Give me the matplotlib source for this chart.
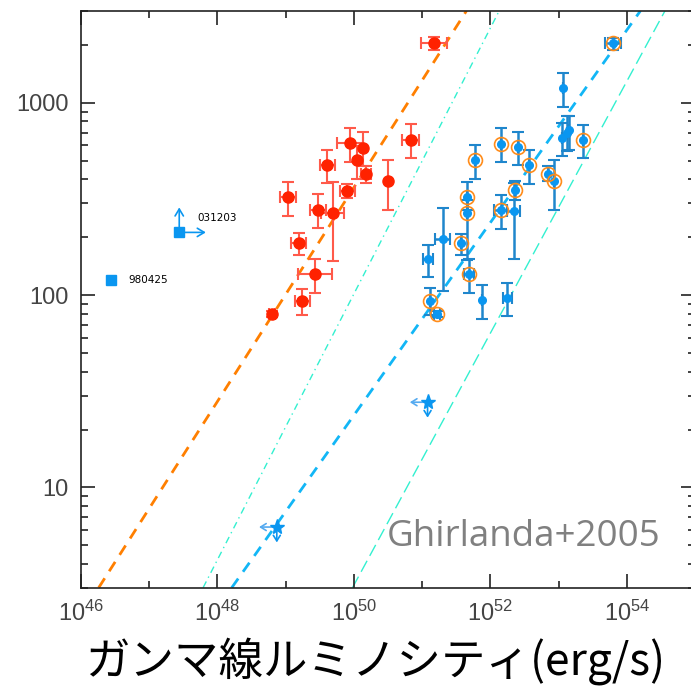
import matplotlib

matplotlib.use("Agg")
import matplotlib.pyplot as plt
import numpy as np
from matplotlib.ticker import FixedLocator, NullFormatter

plt.rcParams["font.family"] = ["Liberation Sans", "DejaVu Sans"]
plt.rcParams["mathtext.default"] = "regular"

# --- data: log10 L_gamma (erg/s), log10 Epeak (keV) ---
# red sample (lower-luminosity group)
red_logL = [49.03, 49.19, 49.24, 49.43, 49.47, 49.69, 49.61, 49.90, 49.94,
            50.14, 50.04, 50.18, 50.50, 50.83, 48.80, 51.17]
red_logE = [2.510, 2.271, 1.970, 2.110, 2.444, 2.427, 2.676, 2.543, 2.789,
            2.766, 2.702, 2.628, 2.593, 2.809, 1.900, 3.310]
red_logE_hi = [2.590, 2.323, 2.034, 2.188, 2.524, 2.586, 2.756, 2.578, 2.869,
               2.846, 2.777, 2.669, 2.704, 2.887, 1.915, 3.341]
red_logE_lo = [2.413, 2.210, 1.894, 2.011, 2.347, 2.176, 2.583, 2.505, 2.692,
               2.669, 2.604, 2.583, 2.444, 2.713, 1.885, 3.275]
red_dlogL = [0.12, 0.11, 0.11, 0.25, 0.12, 0.17, 0.11, 0.11, 0.19,
             0.0, 0.0, 0.07, 0.0, 0.12, 0.05, 0.19]

# blue sample (higher-luminosity group)
blue_logL = [53.80, 53.07, 53.05, 53.12, 53.16, 53.36, 52.15, 52.41, 51.78,
             52.57, 52.85, 52.93, 52.36, 52.34, 51.66, 51.66, 52.15, 51.30,
             51.09, 51.57, 51.69, 51.11, 51.22, 51.88, 52.25]
blue_logE = [3.310, 3.076, 2.817, 2.843, 2.860, 2.808, 2.787, 2.768, 2.704,
             2.678, 2.630, 2.591, 2.544, 2.437, 2.510, 2.427, 2.444, 2.290,
             2.188, 2.271, 2.112, 1.971, 1.900, 1.975, 1.985]
blue_logE_hi = [3.339, 3.157, 2.895, 2.929, 2.932, 2.886, 2.869, 2.846, 2.782,
                2.756, 2.669, 2.700, 2.591, 2.583, 2.588, 2.496, 2.522, 2.453,
                2.262, 2.319, 2.190, 2.037, 1.915, 2.051, 2.063]
blue_logE_lo = [3.275, 2.978, 2.721, 2.747, 2.756, 2.713, 2.692, 2.674, 2.605,
                2.579, 2.591, 2.444, 2.496, 2.190, 2.444, 2.184, 2.345, 2.023,
                2.092, 2.210, 2.011, 1.894, 1.885, 1.878, 1.890]
blue_dlogL = [0.12, 0.0, 0.0, 0.0, 0.0, 0.0, 0.0, 0.0, 0.0,
              0.0, 0.0, 0.0, 0.0, 0.10, 0.0, 0.0, 0.09, 0.11,
              0.07, 0.0, 0.07, 0.0, 0.04, 0.0, 0.07]
blue_ringed = [1, 0, 0, 0, 0, 1, 1, 1, 1,
               1, 1, 1, 1, 0, 1, 1, 1, 0,
               0, 1, 1, 1, 1, 0, 0]

# peculiar bursts (squares, with limits for 031203)
sq_names = ["980425", "031203"]
sq_logL = [46.44, 47.44]
sq_logE = [2.077, 2.326]

# upper-limit stars
star_logL = [48.87, 51.08]
star_logE = [0.794, 1.443]

# correlation lines: (logL, logE) at both ends
line_orange = ([46.26, 51.65], [0.479, 3.478])
line_dashdot = ([47.79, 52.13], [0.479, 3.478])
line_blue = ([48.21, 54.20], [0.479, 3.478])
line_longdash = ([49.98, 54.56], [0.479, 3.478])


def p10(a):
    return np.power(10.0, np.asarray(a, dtype=float))


fig = plt.figure(figsize=(6.91, 6.86), dpi=100)
ax = fig.add_axes([81 / 691, 98 / 686, 614 / 691, 577 / 686])
ax.set_xscale("log")
ax.set_yscale("log")
ax.set_xlim(1e46, 1e55)
ax.set_ylim(3.0, 3000)

# lines
ax.plot(p10(line_orange[0]), p10(line_orange[1]), color="#ff7f00", lw=2,
        ls=(0, (4, 3)), zorder=1)
ax.plot(p10(line_dashdot[0]), p10(line_dashdot[1]), color="#33f0d0", lw=1,
        ls=(0, (5, 3, 1, 3)), zorder=1)
ax.plot(p10(line_blue[0]), p10(line_blue[1]), color="#12b6f6", lw=2,
        ls=(0, (4, 3)), zorder=1)
ax.plot(p10(line_longdash[0]), p10(line_longdash[1]), color="#33f0d0", lw=1,
        ls=(0, (9, 4)), zorder=1)

# red points
rx = p10(red_logL)
ry = p10(red_logE)
rxerr = [rx - p10(np.array(red_logL) - red_dlogL), p10(np.array(red_logL) + red_dlogL) - rx]
ryerr = [ry - p10(red_logE_lo), p10(red_logE_hi) - ry]
ax.errorbar(rx, ry, xerr=rxerr, yerr=ryerr, fmt="none", ecolor="#ff5a4a",
            elinewidth=1.5, capsize=4, capthick=1.5, zorder=2)
ax.plot(rx, ry, "o", color="#ff2200", ms=8, mec="#ff2200", zorder=3)

# blue points
bx = p10(blue_logL)
by = p10(blue_logE)
bxerr = [bx - p10(np.array(blue_logL) - blue_dlogL), p10(np.array(blue_logL) + blue_dlogL) - bx]
byerr = [by - p10(blue_logE_lo), p10(blue_logE_hi) - by]
ax.errorbar(bx, by, xerr=bxerr, yerr=byerr, fmt="none", ecolor="#1f86cc",
            elinewidth=1.8, capsize=4, capthick=1.5, zorder=2)
ax.plot(bx, by, "o", color="#0a96f0", ms=5.5, mec="#0a96f0", zorder=3)
ring = np.array(blue_ringed, dtype=bool)
ax.plot(bx[ring], by[ring], "o", mfc="none", mec="#ff8c1a", ms=10, mew=1.2, zorder=4)

# peculiar squares
ax.plot(p10(sq_logL), p10(sq_logE), "s", color="#0a96f0", ms=7, zorder=3)
for name, lx, ly in zip(sq_names, sq_logL, sq_logE):
    ax.text(10 ** (lx + 0.26), 10 ** (ly + 0.0 if name == "980425" else ly + 0.075),
            name, fontsize=7.5, va="center", ha="left", color="black",
            family=["DejaVu Sans"])
arrow_kw = dict(arrowstyle="->,head_length=0.5,head_width=0.3", color="#0a96f0", lw=1.2,
                shrinkA=0, shrinkB=0)
ax.annotate("", xy=(10 ** sq_logL[1], 10 ** (sq_logE[1] + 0.13)),
            xytext=(10 ** sq_logL[1], 10 ** sq_logE[1]), arrowprops=arrow_kw)
ax.annotate("", xy=(10 ** (sq_logL[1] + 0.39), 10 ** sq_logE[1]),
            xytext=(10 ** sq_logL[1], 10 ** sq_logE[1]), arrowprops=arrow_kw)

# upper-limit stars
star_kw = dict(arrowstyle="->,head_length=0.4,head_width=0.25", lw=1.2,
               shrinkA=0, shrinkB=0)
for lx, ly in zip(star_logL, star_logE):
    ax.annotate("", xy=(10 ** (lx - 0.26), 10 ** ly), xytext=(10 ** lx, 10 ** ly),
                arrowprops=dict(color="#55aaf0", **star_kw))
    ax.annotate("", xy=(10 ** lx, 10 ** (ly - 0.08)), xytext=(10 ** lx, 10 ** ly),
                arrowprops=dict(color="#0a96f0", **star_kw))
ax.plot(p10(star_logL), p10(star_logE), "*", color="#0a96f0", ms=11, zorder=5)

# ticks
ax.xaxis.set_major_locator(FixedLocator([10.0 ** k for k in range(46, 56, 2)]))
ax.xaxis.set_minor_locator(FixedLocator([10.0 ** k for k in range(47, 56, 2)]))
ax.set_xticklabels([f"$10^{{{k}}}$" for k in range(46, 56, 2)])
ax.xaxis.set_minor_formatter(NullFormatter())
ax.yaxis.set_major_locator(FixedLocator([10, 100, 1000]))
ax.set_yticklabels(["10", "100", "1000"])
ax.yaxis.set_minor_locator(FixedLocator(
    [m * 10.0 ** k for k in range(0, 4) for m in range(2, 10)]))
ax.yaxis.set_minor_formatter(NullFormatter())
ax.tick_params(which="both", direction="in", top=True, right=True,
               color="#222222", width=1.2)
ax.tick_params(which="major", length=10, labelsize=17, labelcolor="#444444", pad=9)
ax.tick_params(which="minor", length=5)
for s in ax.spines.values():
    s.set_linewidth(1.2)
    s.set_color("#222222")

ax.text(0.498, 0.073, "Ghirlanda+2005", transform=ax.transAxes, fontsize=26.5,
        color="#808080", family=["Open Sans", "DejaVu Sans"], ha="left", va="baseline")

fig.text(375 / 691, 1 - 661 / 686, "ガンマ線ルミノシティ(erg/s)", fontsize=32,
         ha="center", va="center", color="black",
         family=["Noto Sans CJK JP", "DejaVu Sans"])

fig.savefig("out.png", dpi=100)
